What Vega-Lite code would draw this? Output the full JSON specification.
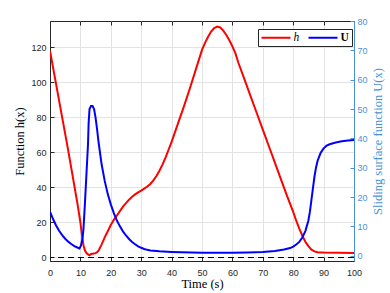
{
  "$schema": "https://vega.github.io/schema/vega-lite/v6.json",
  "width": 304,
  "height": 240,
  "autosize": {"type": "none"},
  "padding": {"left": 50, "top": 21, "right": 36, "bottom": 32},
  "background": "white",
  "config": {
    "view": {"stroke": "#262626", "strokeWidth": 1},
    "axis": {
      "labelFont": "Liberation Sans",
      "labelFontSize": 9,
      "labelColor": "#262626",
      "labelOverlap": false,
      "labelFlush": false,
      "titleFont": "Liberation Serif",
      "titleFontSize": 12.5,
      "titleFontWeight": "normal",
      "titleColor": "#000000",
      "domainColor": "#262626",
      "tickColor": "#262626",
      "gridColor": "#e3e3e3",
      "tickSize": -4
    }
  },
  "datasets": {
    "hdata": [
      {"t": 0, "v": 118, "s": "h"}, {"t": 2, "v": 99, "s": "h"}, {"t": 4, "v": 80, "s": "h"},
      {"t": 6, "v": 61, "s": "h"}, {"t": 8, "v": 41, "s": "h"}, {"t": 9, "v": 31, "s": "h"},
      {"t": 10, "v": 20, "s": "h"}, {"t": 10.5, "v": 13, "s": "h"}, {"t": 11, "v": 7, "s": "h"},
      {"t": 11.5, "v": 4, "s": "h"}, {"t": 12, "v": 2.5, "s": "h"}, {"t": 12.5, "v": 1.8, "s": "h"},
      {"t": 13, "v": 1.3, "s": "h"}, {"t": 13.5, "v": 2, "s": "h"}, {"t": 14, "v": 2.2, "s": "h"},
      {"t": 15, "v": 2.5, "s": "h"}, {"t": 15.5, "v": 3, "s": "h"}, {"t": 16, "v": 4, "s": "h"},
      {"t": 17, "v": 7.5, "s": "h"}, {"t": 18, "v": 11.5, "s": "h"}, {"t": 19, "v": 15, "s": "h"},
      {"t": 20, "v": 18.5, "s": "h"}, {"t": 21, "v": 21.5, "s": "h"}, {"t": 22, "v": 24, "s": "h"},
      {"t": 23, "v": 26.5, "s": "h"}, {"t": 24, "v": 29, "s": "h"}, {"t": 25, "v": 31, "s": "h"},
      {"t": 26, "v": 33, "s": "h"}, {"t": 27, "v": 34.7, "s": "h"}, {"t": 28, "v": 36, "s": "h"},
      {"t": 29, "v": 37.2, "s": "h"}, {"t": 30, "v": 38.2, "s": "h"}, {"t": 31, "v": 39.3, "s": "h"},
      {"t": 32, "v": 40.5, "s": "h"}, {"t": 33, "v": 42, "s": "h"}, {"t": 34, "v": 44, "s": "h"},
      {"t": 35, "v": 46.5, "s": "h"}, {"t": 36, "v": 49.5, "s": "h"}, {"t": 37, "v": 53, "s": "h"},
      {"t": 38, "v": 57, "s": "h"}, {"t": 39, "v": 61.5, "s": "h"}, {"t": 40, "v": 66, "s": "h"},
      {"t": 42, "v": 76, "s": "h"}, {"t": 44, "v": 86, "s": "h"}, {"t": 46, "v": 96.5, "s": "h"},
      {"t": 48, "v": 107.5, "s": "h"}, {"t": 50, "v": 118.5, "s": "h"}, {"t": 51, "v": 122.5, "s": "h"},
      {"t": 52, "v": 126, "s": "h"}, {"t": 53, "v": 129, "s": "h"}, {"t": 54, "v": 131, "s": "h"},
      {"t": 55, "v": 131.8, "s": "h"}, {"t": 56, "v": 131.3, "s": "h"}, {"t": 57, "v": 129.5, "s": "h"},
      {"t": 58, "v": 127, "s": "h"}, {"t": 59, "v": 124, "s": "h"}, {"t": 60, "v": 120.5, "s": "h"},
      {"t": 61, "v": 116.5, "s": "h"}, {"t": 62, "v": 111, "s": "h"}, {"t": 64, "v": 101.5, "s": "h"},
      {"t": 66, "v": 92, "s": "h"}, {"t": 68, "v": 82.5, "s": "h"}, {"t": 70, "v": 73, "s": "h"},
      {"t": 72, "v": 63.5, "s": "h"}, {"t": 74, "v": 54, "s": "h"}, {"t": 76, "v": 44.5, "s": "h"},
      {"t": 78, "v": 35, "s": "h"}, {"t": 80, "v": 26, "s": "h"}, {"t": 81, "v": 21, "s": "h"},
      {"t": 82, "v": 16.5, "s": "h"}, {"t": 83, "v": 12.5, "s": "h"}, {"t": 84, "v": 9, "s": "h"},
      {"t": 85, "v": 6.5, "s": "h"}, {"t": 86, "v": 4.5, "s": "h"}, {"t": 87, "v": 3.5, "s": "h"},
      {"t": 88, "v": 3, "s": "h"}, {"t": 90, "v": 2.8, "s": "h"}, {"t": 95, "v": 2.7, "s": "h"},
      {"t": 100, "v": 2.6, "s": "h"}
    ],
    "udata": [
      {"t": 0, "v": 15, "s": "U"}, {"t": 1, "v": 12.5, "s": "U"}, {"t": 2, "v": 10.3, "s": "U"},
      {"t": 3, "v": 8.5, "s": "U"}, {"t": 4, "v": 7, "s": "U"}, {"t": 5, "v": 5.8, "s": "U"},
      {"t": 6, "v": 4.8, "s": "U"}, {"t": 7, "v": 4, "s": "U"}, {"t": 8, "v": 3.3, "s": "U"},
      {"t": 9, "v": 2.8, "s": "U"}, {"t": 9.7, "v": 2.5, "s": "U"}, {"t": 10.2, "v": 3.5, "s": "U"},
      {"t": 10.7, "v": 6, "s": "U"}, {"t": 11, "v": 9, "s": "U"}, {"t": 11.5, "v": 18, "s": "U"},
      {"t": 12, "v": 28, "s": "U"}, {"t": 12.3, "v": 34, "s": "U"}, {"t": 12.5, "v": 38, "s": "U"},
      {"t": 12.7, "v": 45, "s": "U"}, {"t": 13, "v": 50, "s": "U"}, {"t": 13.5, "v": 51, "s": "U"},
      {"t": 14, "v": 51, "s": "U"}, {"t": 14.5, "v": 50, "s": "U"}, {"t": 15, "v": 47, "s": "U"},
      {"t": 15.5, "v": 43, "s": "U"}, {"t": 16, "v": 38.5, "s": "U"}, {"t": 17, "v": 31, "s": "U"},
      {"t": 18, "v": 25.5, "s": "U"}, {"t": 19, "v": 21, "s": "U"}, {"t": 20, "v": 17.5, "s": "U"},
      {"t": 21, "v": 14.5, "s": "U"}, {"t": 22, "v": 12, "s": "U"}, {"t": 23, "v": 10, "s": "U"},
      {"t": 24, "v": 8.3, "s": "U"}, {"t": 25, "v": 6.9, "s": "U"}, {"t": 26, "v": 5.7, "s": "U"},
      {"t": 27, "v": 4.7, "s": "U"}, {"t": 28, "v": 3.9, "s": "U"}, {"t": 29, "v": 3.2, "s": "U"},
      {"t": 30, "v": 2.7, "s": "U"}, {"t": 31, "v": 2.3, "s": "U"}, {"t": 32, "v": 2, "s": "U"},
      {"t": 33, "v": 1.8, "s": "U"}, {"t": 36, "v": 1.5, "s": "U"}, {"t": 40, "v": 1.3, "s": "U"},
      {"t": 50, "v": 1.0, "s": "U"}, {"t": 60, "v": 1.0, "s": "U"}, {"t": 65, "v": 1.1, "s": "U"},
      {"t": 70, "v": 1.3, "s": "U"}, {"t": 74, "v": 1.6, "s": "U"}, {"t": 77, "v": 2.1, "s": "U"},
      {"t": 79, "v": 2.6, "s": "U"}, {"t": 80, "v": 3.1, "s": "U"}, {"t": 81, "v": 3.8, "s": "U"},
      {"t": 82, "v": 4.7, "s": "U"}, {"t": 83, "v": 6.2, "s": "U"}, {"t": 84, "v": 8.4, "s": "U"},
      {"t": 85, "v": 12, "s": "U"}, {"t": 85.5, "v": 15, "s": "U"}, {"t": 86, "v": 19, "s": "U"},
      {"t": 86.5, "v": 23, "s": "U"}, {"t": 87, "v": 27, "s": "U"}, {"t": 87.5, "v": 30, "s": "U"},
      {"t": 88, "v": 32.3, "s": "U"}, {"t": 89, "v": 35, "s": "U"}, {"t": 90, "v": 36.6, "s": "U"},
      {"t": 91, "v": 37.5, "s": "U"}, {"t": 92, "v": 38, "s": "U"}, {"t": 94, "v": 38.6, "s": "U"},
      {"t": 96, "v": 39, "s": "U"}, {"t": 98, "v": 39.3, "s": "U"}, {"t": 100, "v": 39.4, "s": "U"}
    ],
    "zero": [{"y0": 0}]
  },
  "layer": [
    {
      "layer": [
        {
          "data": {"name": "hdata"},
          "mark": {"type": "line", "strokeWidth": 2, "clip": true},
          "encoding": {
            "x": {
              "field": "t", "type": "quantitative",
              "scale": {"domain": [0, 100], "nice": false},
              "axis": {"title": "Time (s)", "values": [0, 10, 20, 30, 40, 50, 60, 70, 80, 90, 100], "grid": true, "labelPadding": 11,
                "titleX": 152, "titleY": 22, "titleBaseline": "middle", "titleAlign": "center"}
            },
            "y": {
              "field": "v", "type": "quantitative",
              "scale": {"domain": [-2, 135], "nice": false, "zero": false},
              "axis": {"title": "Function h(x)", "values": [0, 20, 40, 60, 80, 100, 120], "grid": true, "labelPadding": 8,
                "titleX": -31, "titleY": 120, "titleAngle": 270, "titleBaseline": "middle", "titleAlign": "center"}
            },
            "color": {
              "field": "s", "type": "nominal",
              "scale": {"domain": ["h", "U"], "range": ["#ff0000", "#0000ff"]},
              "legend": {
                "title": null,
                "orient": "none",
                "legendX": 208,
                "legendY": 8,
                "direction": "horizontal",
                "padding": 2.5,
                "fillColor": "#ffffff",
                "strokeColor": "#262626",
                "symbolType": "M-1,0H4.8",
                "symbolSize": 100,
                "symbolStrokeWidth": 2,
                "labelOffset": 21,
                "columnPadding": 5,
                "labelFont": "Liberation Serif",
                "labelFontSize": 11.5,
                "labelColor": "#000000",
                "encode": {
                  "labels": {
                    "update": {
                      "fontStyle": {"signal": "datum.label == 'h' ? 'italic' : 'normal'"},
                      "fontWeight": {"signal": "datum.label == 'U' ? 'bold' : 'normal'"}
                    }
                  }
                }
              }
            }
          }
        },
        {
          "data": {"name": "zero"},
          "mark": {"type": "rule", "color": "#000000", "strokeDash": [6, 4], "strokeWidth": 1.2},
          "encoding": {
            "y": {
              "field": "y0", "type": "quantitative",
              "axis": {"title": "Function h(x)", "values": [0, 20, 40, 60, 80, 100, 120], "grid": true, "labelPadding": 8,
                "titleX": -31, "titleY": 120, "titleAngle": 270, "titleBaseline": "middle", "titleAlign": "center"}
            }
          }
        }
      ]
    },
    {
      "data": {"name": "udata"},
      "mark": {"type": "line", "strokeWidth": 2, "clip": true},
      "encoding": {
        "x": {
          "field": "t", "type": "quantitative",
          "scale": {"domain": [0, 100], "nice": false},
          "axis": {"orient": "top", "values": [0, 10, 20, 30, 40, 50, 60, 70, 80, 90, 100], "labels": false, "title": null, "grid": false, "domain": false}
        },
        "y": {
          "field": "v", "type": "quantitative",
          "scale": {"domain": [-1.8, 80], "nice": false, "zero": false},
          "axis": {
            "orient": "right", "title": "Sliding surface function U(x)",
            "values": [0, 10, 20, 30, 40, 50, 60, 70, 80], "grid": false,
            "labelColor": "#4a90d9", "domainColor": "#4a90d9", "tickColor": "#4a90d9", "titleColor": "#4a90d9",
            "labelPadding": 7,
            "titleX": 23, "titleY": 120, "titleAngle": 270, "titleBaseline": "middle", "titleAlign": "center"
          }
        },
        "color": {"field": "s", "type": "nominal"}
      }
    }
  ],
  "resolve": {"scale": {"y": "independent"}, "axis": {"x": "independent"}}
}
